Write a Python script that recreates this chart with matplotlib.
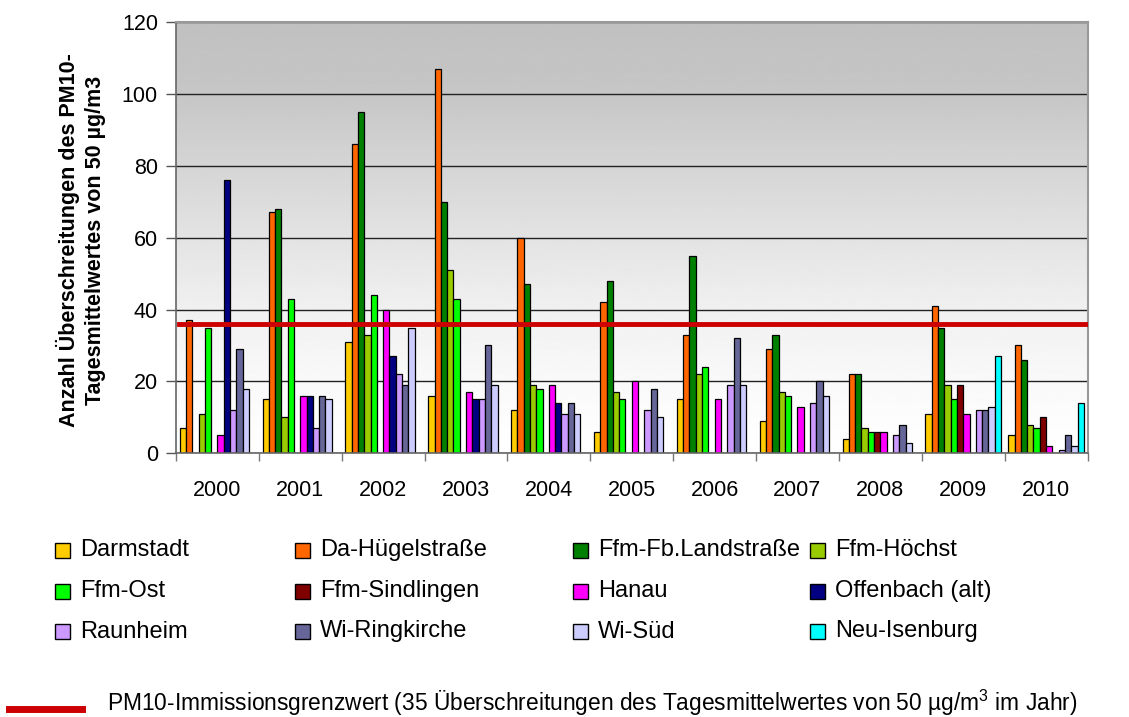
import numpy as np
import matplotlib
matplotlib.use("Agg")
import matplotlib.pyplot as plt
from matplotlib.patches import Rectangle
from matplotlib.lines import Line2D

plt.rcParams['font.family'] = ['Liberation Sans', 'DejaVu Sans']
plt.rcParams['mathtext.fontset'] = 'custom'
plt.rcParams['mathtext.rm'] = 'Liberation Sans'
plt.rcParams['mathtext.it'] = 'Liberation Sans'
plt.rcParams['mathtext.bf'] = 'Liberation Sans:bold'

years = ['2000', '2001', '2002', '2003', '2004', '2005',
         '2006', '2007', '2008', '2009', '2010']

stations = ['Darmstadt', 'Da-Hügelstraße', 'Ffm-Fb.Landstraße', 'Ffm-Höchst',
            'Ffm-Ost', 'Ffm-Sindlingen', 'Hanau', 'Offenbach (alt)',
            'Raunheim', 'Wi-Ringkirche', 'Wi-Süd', 'Neu-Isenburg']

# Anzahl Ueberschreitungen je Jahr (0 = keine Messung)
darmstadt = [7, 15, 31, 16, 12, 6, 15, 9, 4, 11, 5]
da_huegel = [37, 67, 86, 107, 60, 42, 33, 29, 22, 41, 30]
ffm_fb = [0, 68, 95, 70, 47, 48, 55, 33, 22, 35, 26]
ffm_hoechst = [11, 10, 33, 51, 19, 17, 22, 17, 7, 19, 8]
ffm_ost = [35, 43, 44, 43, 18, 15, 24, 16, 6, 15, 7]
ffm_sindlingen = [0, 0, 0, 0, 0, 0, 0, 0, 6, 19, 10]
hanau = [5, 16, 40, 17, 19, 20, 15, 13, 6, 11, 2]
offenbach = [76, 16, 27, 15, 14, 0, 0, 0, 0, 0, 0]
raunheim = [12, 7, 22, 15, 11, 12, 19, 14, 5, 12, 1]
wi_ring = [29, 16, 19, 30, 14, 18, 32, 20, 8, 12, 5]
wi_sued = [18, 15, 35, 19, 11, 10, 19, 16, 3, 13, 2]
neu_isenburg = [0, 0, 0, 0, 0, 0, 0, 0, 0, 27, 14]

series = [darmstadt, da_huegel, ffm_fb, ffm_hoechst, ffm_ost, ffm_sindlingen,
          hanau, offenbach, raunheim, wi_ring, wi_sued, neu_isenburg]

colors = ['#FFCC00', '#FF6600', '#008000', '#99CC00', '#00FF00', '#800000',
          '#FF00FF', '#000080', '#CC99FF', '#666699', '#CCCCFF', '#00FFFF']

limit = 36
limit_text = ('PM10-Immissionsgrenzwert (35 Überschreitungen des '
              'Tagesmittelwertes von 50 µg/m$^3$ im Jahr)')

fig = plt.figure(figsize=(11.29, 7.17), dpi=100)
ax = fig.add_axes([176 / 1129, 1 - 453.3 / 717, 911.5 / 1129, 431.3 / 717])

# background gradient (grey top -> white bottom)
lev = np.linspace(0, 120, 200)
shade = np.interp(lev, [0, 20, 40, 60, 80, 100, 120],
                  [255, 249, 240, 227, 213, 198, 192]) / 255.0
ax.imshow(shade[::-1, None], extent=[0, 11, 0, 120], aspect='auto',
          cmap='gray', vmin=0, vmax=1, zorder=0, interpolation='bilinear')

n = len(series)
w = 1.0 / (n + 1.16)
x = np.arange(len(years)) + 0.5
for j, (vals, col) in enumerate(zip(series, colors)):
    vals = np.array(vals, dtype=float)
    vals[vals == 0] = np.nan
    ax.bar(x + (j - (n - 1) / 2) * w, vals, width=w, color=col,
           edgecolor='black', linewidth=0.9, zorder=2)

ax.axhline(limit, xmin=0.003, xmax=1, color='#CC0000', linewidth=3.5, zorder=3)

ax.set_xlim(0, 11)
ax.set_ylim(0, 120)
ax.set_yticks(np.arange(0, 121, 20))
ax.yaxis.grid(True, color='#222222', linewidth=1)
ax.set_axisbelow(True)
ax.tick_params(axis='y', length=7, width=1, color='#555555', pad=6, labelsize=15.5)
ax.set_xticks(x)
ax.set_xticklabels(years)
ax.set_xticks(np.arange(12), minor=True)
ax.tick_params(axis='x', which='major', length=0, pad=19, labelsize=15.5)
ax.tick_params(axis='x', which='minor', length=6, width=1, color='#777777')

for side in ['left', 'bottom']:
    ax.spines[side].set_color('#666666')
    ax.spines[side].set_linewidth(1.2)
for side in ['top', 'right']:
    ax.spines[side].set_color('#999999')
    ax.spines[side].set_linewidth(1.5)

fig.text(81 / 1129, 1 - 240 / 717,
         'Anzahl Überschreitungen des PM10-\nTagesmittelwertes von 50 µg/m3',
         rotation=90, ha='center', va='center', fontsize=15.5,
         fontweight='bold', linespacing=1.35)

# legend, laid out like the original
col_x = [55, 295, 573, 810]
row_y = [550, 591, 631.5]
for k, (name, col) in enumerate(zip(stations, colors)):
    cx = col_x[k % 4]
    cy = row_y[k // 4]
    fig.add_artist(Rectangle((cx / 1129, 1 - (cy + 7.5) / 717), 15 / 1129, 15 / 717,
                             transform=fig.transFigure, facecolor=col,
                             edgecolor='black', linewidth=1))
    fig.text((cx + 25) / 1129, 1 - cy / 717, name, ha='left', va='center',
             fontsize=17)

fig.add_artist(Line2D([9 / 1129, 82 / 1129], [1 - 709 / 717, 1 - 709 / 717],
                      transform=fig.transFigure, color='#CC0000', linewidth=5))
fig.text(107 / 1129, 1 - 703 / 717, limit_text, ha='left', va='center',
         fontsize=16.4)

fig.savefig('out.png', dpi=100)
